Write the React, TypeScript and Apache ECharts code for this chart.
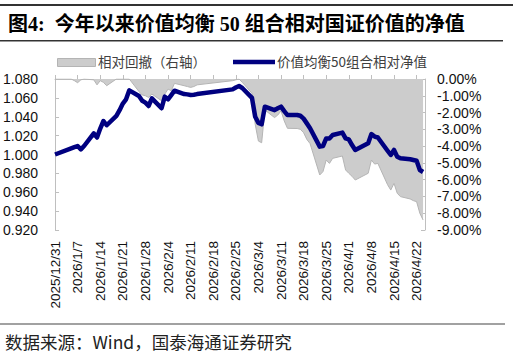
import React, { useEffect, useRef } from "react";
import * as echarts from "echarts";

const dates = [
  "2025-12-31", "2026-01-05", "2026-01-06", "2026-01-07", "2026-01-08", "2026-01-09",
  "2026-01-12", "2026-01-13", "2026-01-14", "2026-01-15", "2026-01-16",
  "2026-01-19", "2026-01-20", "2026-01-21", "2026-01-22", "2026-01-23",
  "2026-01-26", "2026-01-27", "2026-01-28", "2026-01-29", "2026-01-30",
  "2026-02-02", "2026-02-03", "2026-02-04", "2026-02-05", "2026-02-06",
  "2026-02-09", "2026-02-10", "2026-02-11", "2026-02-12", "2026-02-13",
  "2026-02-24", "2026-02-25", "2026-02-26", "2026-02-27",
  "2026-03-02", "2026-03-03", "2026-03-04", "2026-03-05", "2026-03-06",
  "2026-03-09", "2026-03-10", "2026-03-11", "2026-03-12", "2026-03-13",
  "2026-03-16", "2026-03-17", "2026-03-18", "2026-03-19", "2026-03-20",
  "2026-03-23", "2026-03-24", "2026-03-25", "2026-03-26", "2026-03-27",
  "2026-03-30", "2026-03-31", "2026-04-01", "2026-04-02", "2026-04-03",
  "2026-04-07", "2026-04-08", "2026-04-09", "2026-04-10",
  "2026-04-13", "2026-04-14", "2026-04-15", "2026-04-16", "2026-04-17",
  "2026-04-20", "2026-04-21", "2026-04-22", "2026-04-23", "2026-04-24",
];

const netValue = [
  1.0, 1.0065, 1.0078, 1.009, 1.0055, 1.009,
  1.0225, 1.018, 1.0275, 1.0355, 1.031,
  1.041, 1.047, 1.054, 1.0585, 1.068,
  1.062, 1.057, 1.055, 1.0514, 1.0595,
  1.049, 1.0613, 1.0585, 1.063, 1.0676,
  1.064, 1.0637, 1.063, 1.0634, 1.064,
  1.069, 1.071, 1.0726, 1.0705,
  1.06, 1.04, 1.0335, 1.032, 1.0507,
  1.047, 1.049, 1.0507, 1.046, 1.0418,
  1.0418, 1.041, 1.038, 1.033, 1.0278,
  1.0083, 1.009, 1.017, 1.017, 1.0207,
  1.0232, 1.017, 1.016, 1.01, 1.0048,
  1.0119, 1.0217, 1.019, 1.018,
  1.004, 0.9995, 1.0048, 0.9977, 0.996,
  0.995, 0.9942, 0.9934, 0.9836, 0.9815,
];

const drawdown = [
  0, 0, -0.1, -0.22, -0.05, 0,
  -0.05, -0.35, -0.1, -0.2, -0.4,
  0, 0, 0, 0, 0,
  -0.75, -0.95, -1.0, -1.1, -0.9,
  -1.3, -0.9, -0.6, -0.7, -0.26,
  -0.4, -0.45, -0.5, -0.45, -0.35,
  -0.1, -0.05, 0, -0.2,
  -0.85, -2.7, -3.7, -3.8, -1.85,
  -2.3, -2.15, -1.9, -2.5, -2.94,
  -2.95, -3.0, -3.2, -3.6, -3.85,
  -5.72, -5.52, -4.83, -5.03, -4.73,
  -4.59, -5.42, -5.62, -5.8, -6.02,
  -5.62, -4.83, -5.07, -5.03,
  -6.3, -6.62, -6.22, -6.81, -7.01,
  -7.15, -7.25, -7.31, -8.0, -8.4,
];

const seriesNames = ["相对回撤（右轴）", "价值均衡50组合相对净值"];
const titleText = "图4:  今年以来价值均衡 50 组合相对国证价值的净值";
const sourceText = "数据来源：Wind，国泰海通证券研究";

const BASE = Date.UTC(2025, 11, 31);
const DAY = 86400000;
const toDay = (s: string) => {
  const [y, m, d] = s.split("-").map(Number);
  return Math.round((Date.UTC(y, m - 1, d) - BASE) / DAY);
};
const fmtDay = (v: number) => {
  const dt = new Date(BASE + v * DAY);
  return `${dt.getUTCFullYear()}/${dt.getUTCMonth() + 1}/${dt.getUTCDate()}`;
};

const CJK = '"Noto Sans CJK SC", sans-serif';
const LATIN = '"Liberation Sans", Arial, "Noto Sans CJK SC", sans-serif';

export default function App() {
  const ref = useRef<HTMLDivElement>(null);
  useEffect(() => {
    if (!ref.current) return;
    const chart = echarts.init(ref.current, undefined, { renderer: "svg" });
    const lineData = dates.map((d, i) => [toDay(d), netValue[i]]);
    const ddData = dates.map((d, i) => [toDay(d), drawdown[i]]);
    const axisGray = "#bfbfbf";
    chart.setOption({
      animation: false,
      backgroundColor: "#ffffff",
      grid: { left: 52, right: 96, top: 79, bottom: 124, containLabel: false },
      xAxis: {
        type: "value",
        min: 0,
        max: 114.6,
        interval: 7,
        axisLine: { show: true, lineStyle: { color: axisGray, width: 1 } },
        axisTick: { show: true, inside: true, length: 4, lineStyle: { color: axisGray } },
        splitLine: { show: false },
        axisLabel: {
          rotate: 90,
          margin: 11,
          color: "#111",
          fontSize: 13.5,
          fontFamily: LATIN,
          showMaxLabel: false,
          formatter: (v: number) => (Math.abs(v % 7) < 1e-6 && v <= 112 ? fmtDay(v) : ""),
        },
      },
      yAxis: [
        {
          type: "value",
          min: 0.92,
          max: 1.08,
          interval: 0.02,
          position: "left",
          axisLine: { show: true, lineStyle: { color: axisGray } },
          axisTick: { show: true, inside: true, length: 4, lineStyle: { color: axisGray } },
          splitLine: { show: false },
          axisLabel: {
            margin: 17,
            color: "#111",
            fontSize: 14,
            fontFamily: LATIN,
            formatter: (v: number) => v.toFixed(3),
          },
        },
        {
          type: "value",
          min: -9,
          max: 0,
          interval: 1,
          position: "right",
          axisLine: { show: true, lineStyle: { color: axisGray } },
          axisTick: { show: true, inside: true, length: 4, lineStyle: { color: axisGray } },
          splitLine: { show: false },
          axisLabel: {
            margin: 12,
            color: "#111",
            fontSize: 14,
            fontFamily: LATIN,
            formatter: (v: number) => v.toFixed(2) + "%",
          },
        },
      ],
      series: [
        {
          name: seriesNames[0],
          type: "line",
          yAxisIndex: 1,
          data: ddData,
          symbol: "none",
          lineStyle: { color: "#b4b4b4", width: 1 },
          areaStyle: { color: "#cccccc", opacity: 1 },
          z: 1,
        },
        {
          name: seriesNames[1],
          type: "line",
          yAxisIndex: 0,
          data: lineData,
          symbol: "none",
          lineStyle: { color: "#000080", width: 4.5, join: "round" },
          z: 3,
        },
      ],
      graphic: [
        { type: "rect", left: 0, top: 4, shape: { width: 513, height: 2 }, style: { fill: "#333" } },
        {
          type: "text",
          left: 8,
          top: 14,
          style: { text: titleText, fill: "#000", font: `bold 20px "Liberation Serif", "Noto Sans CJK SC", serif` },
        },
        { type: "rect", left: 0, top: 40, shape: { width: 503, height: 1.5 }, style: { fill: "#333" } },
        {
          type: "rect",
          left: 57,
          top: 58,
          shape: { width: 38, height: 8 },
          style: { fill: "#cccccc", stroke: "#b4b4b4", lineWidth: 1 },
        },
        {
          type: "text",
          left: 98,
          top: 54,
          style: { text: seriesNames[0], fill: "#404040", font: `13.5px ${CJK}` },
        },
        {
          type: "line",
          shape: { x1: 233, y1: 62, x2: 275, y2: 62 },
          style: { stroke: "#000080", lineWidth: 4.5 },
        },
        {
          type: "text",
          left: 277,
          top: 54,
          style: { text: seriesNames[1], fill: "#404040", font: `13.5px ${CJK}` },
        },
        { type: "rect", left: 0, top: 323.5, shape: { width: 505, height: 1 }, style: { fill: "#444" } },
        {
          type: "text",
          left: 5,
          top: 333,
          style: { text: sourceText, fill: "#222", font: `17.5px ${CJK}` },
        },
      ],
    });
    return () => chart.dispose();
  }, []);
  return (
    <div
      ref={ref}
      style={{ position: "fixed", left: 0, top: 0, width: 521, height: 354, background: "#fff" }}
    />
  );
}
